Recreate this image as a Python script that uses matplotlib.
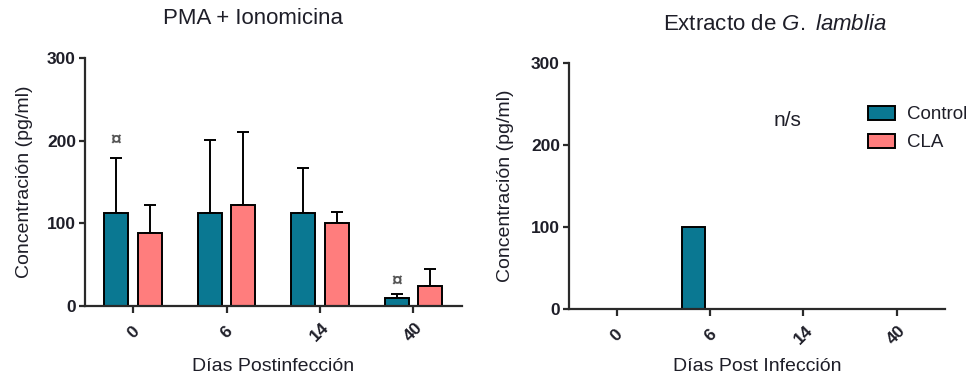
import matplotlib
matplotlib.use("Agg")
import matplotlib.pyplot as plt
import matplotlib.transforms as mtransforms
from matplotlib.patches import Patch
import numpy as np

plt.rcParams['font.family'] = ['Liberation Sans', 'DejaVu Sans']
plt.rcParams['mathtext.fontset'] = 'custom'
plt.rcParams['mathtext.rm'] = 'Liberation Sans'
plt.rcParams['mathtext.it'] = 'Liberation Sans:italic'

# ---- data ----
days = ['0', '6', '14', '40']

pma_control = [112, 112, 112, 10]
pma_control_err = [67, 89, 55, 4.5]
pma_cla = [88, 122, 100, 24]
pma_cla_err = [34, 88, 14, 21]

# groups marked with the "¤" sign (Control bars) and the sign's height
sig_groups = [0, 3]
sig_y = [200, 29]

ext_control = [0, 100, 0, 0]
ext_cla = [0, 0, 0, 0]

series_names = ['Control', 'CLA']

# ---- style ----
TEAL = '#0A7892'
PINK = '#FF7D7D'
TXT = '#1e1e28'
AX = '#2a2a2a'
W = 0.255
OFF = 0.18

fig = plt.figure(figsize=(9.79, 3.79), dpi=100)
FW, FH = 979, 379


def add_axes_px(left, right, top, bottom):
    return fig.add_axes([left / FW, 1 - bottom / FH, (right - left) / FW, (bottom - top) / FH])


def style_axes(ax, ylabel, xlabel, xlabelpad):
    x = np.arange(len(days))
    ax.set_xlim(-0.515, 3.52)
    ax.set_ylim(0, 300)
    ax.set_yticks([0, 100, 200, 300])
    ax.set_xticks(x)
    ax.set_xticklabels(days, rotation=45, ha='center', va='center',
                       rotation_mode='anchor', fontsize=12.5, fontweight='bold', color=TXT)
    shift = mtransforms.ScaledTranslation(-3 / 100, 0, fig.dpi_scale_trans)
    for lab in ax.get_xticklabels():
        lab.set_transform(lab.get_transform() + shift)
    for lab in ax.get_yticklabels():
        lab.set_fontsize(12.5)
        lab.set_fontweight('bold')
        lab.set_color(TXT)
    ax.tick_params(axis='x', direction='out', length=5, width=1.6, color=AX, pad=14)
    ax.tick_params(axis='y', direction='out', length=4.5, width=1.6, color=AX, pad=2)
    for s in ['top', 'right']:
        ax.spines[s].set_visible(False)
    for s in ['left', 'bottom']:
        ax.spines[s].set_linewidth(1.6)
        ax.spines[s].set_color(AX)
        ax.spines[s].set_zorder(5)
    ax.set_ylabel(ylabel, fontsize=14, color=TXT)
    ax.set_xlabel(xlabel, fontsize=14, color=TXT, labelpad=xlabelpad)


# ---- left panel: PMA + Ionomicina ----
ax1 = add_axes_px(85, 462, 58, 306)
x = np.arange(len(days))
ax1.bar(x - OFF, pma_control, W, color=TEAL, edgecolor='black', linewidth=1.4, zorder=3)
ax1.bar(x + OFF, pma_cla, W, color=PINK, edgecolor='black', linewidth=1.4, zorder=3)
ax1.errorbar(x - OFF, pma_control, yerr=[np.zeros(4), pma_control_err], fmt='none',
             ecolor='black', elinewidth=1.4, capsize=4.5, capthick=1.4, zorder=2)
ax1.errorbar(x + OFF, pma_cla, yerr=[np.zeros(4), pma_cla_err], fmt='none',
             ecolor='black', elinewidth=1.4, capsize=4.5, capthick=1.4, zorder=2)
for g, yv in zip(sig_groups, sig_y):
    ax1.text(g - OFF, yv, '\u00a4', ha='center', va='center', fontsize=14,
             fontweight='bold', color='#555555')
style_axes(ax1, 'Concentración (pg/ml)', 'Días Postinfección', 9.5)
ax1.yaxis.set_label_coords(-0.138, 0.5)

# ---- right panel: Extracto de G. lamblia ----
ax2 = add_axes_px(569, 945, 63, 309)
ax2.bar(x - OFF, ext_control, W, color=TEAL, edgecolor='black', linewidth=1.4, zorder=3)
ax2.bar(x + OFF, ext_cla, W, color=PINK, edgecolor='black', linewidth=1.4, zorder=3)
ax2.text(1.83, 230, 'n/s', ha='center', va='center', fontsize=15, color=TXT)
style_axes(ax2, 'Concentración (pg/ml)', 'Días Post Infección', 7.5)
ax2.yaxis.set_label_coords(-0.146, 0.5)

handles = [Patch(facecolor=TEAL, edgecolor='black', linewidth=1.4),
           Patch(facecolor=PINK, edgecolor='black', linewidth=1.4)]
fig.legend(handles, series_names, loc='upper left',
           bbox_to_anchor=(862 / FW, 1 - 100 / FH), frameon=False, fontsize=13.5,
           handlelength=1.45, handleheight=0.8, handletextpad=0.65, labelspacing=0.55,
           borderaxespad=0, borderpad=0.3, labelcolor=TXT)

# ---- titles ----
fig.text(253 / FW, 1 - 18 / FH, 'PMA + Ionomicina', ha='center', va='center',
         fontsize=16, color=TXT)
fig.text(775 / FW, 1 - 25 / FH, r'Extracto de $\mathit{G.\ lamblia}$', ha='center',
         va='center', fontsize=16, color=TXT)

fig.savefig('out.png', dpi=100)
